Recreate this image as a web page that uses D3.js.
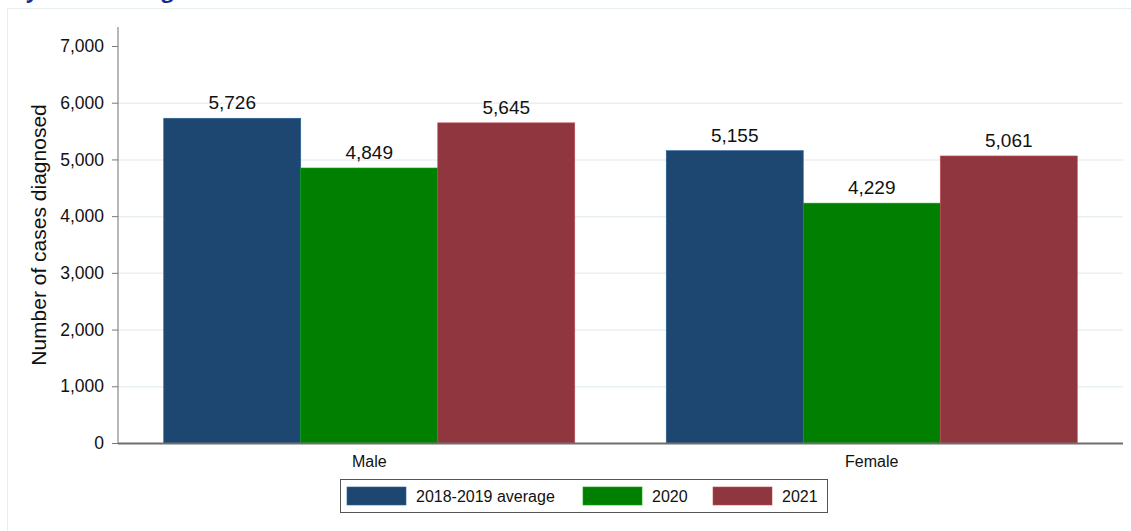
<!DOCTYPE html>
<html>
<head>
<meta charset="utf-8">
<script src="https://cdn.jsdelivr.net/npm/d3@7"></script>
<style>
  html, body { margin: 0; padding: 0; background: #fff; }
  svg { display: block; font-family: "Liberation Sans", Arial, sans-serif; }
</style>
</head>
<body>
<svg id="chart"></svg>
<script>
const width = 1131;
const height = 531;

// data
const groups = ['Male', 'Female'];
const seriesNames = ['2018-2019 average', '2020', '2021'];
const seriesColors = ['#1d4770', '#007f00', '#8f363e'];
const maleValues = [5726, 4849, 5645];
const femaleValues = [5155, 4229, 5061];
const yTicks = [0, 1000, 2000, 3000, 4000, 5000, 6000, 7000];
const gridTicks = [1000, 2000, 3000, 4000, 5000, 6000];

const valuesByGroup = { Male: maleValues, Female: femaleValues };

const svg = d3.select('#chart')
  .attr('width', width)
  .attr('height', height);

// title that sits above the panel, only its descenders show
svg.append('text')
  .attr('x', 12)
  .attr('y', -2)
  .style('font-family', '"Open Sans", sans-serif')
  .style('font-weight', 'bold')
  .style('font-size', '21px')
  .attr('fill', '#1b2a8e')
  .text('By sex and stage');

// light panel frame
svg.append('path')
  .attr('d', 'M7.5,531 V8.5 H1131')
  .attr('fill', 'none')
  .attr('stroke', '#e6eef0')
  .attr('stroke-width', 1);

const plot = { left: 118, right: 1123, top: 27, bottom: 443 };

const y = d3.scaleLinear()
  .domain([0, 7335])
  .range([plot.bottom, plot.top]);

const x0 = d3.scaleBand()
  .domain(groups)
  .range([plot.left, plot.right])
  .paddingInner(0.182)
  .paddingOuter(0.091);

const x1 = d3.scaleBand()
  .domain(seriesNames)
  .range([0, x0.bandwidth()]);

// gridlines
svg.append('g')
  .selectAll('line')
  .data(gridTicks)
  .join('line')
    .attr('x1', plot.left)
    .attr('x2', plot.right)
    .attr('y1', d => y(d) + 0.5)
    .attr('y2', d => y(d) + 0.5)
    .attr('stroke', '#e8f0f2')
    .attr('stroke-width', 1.5);

// y axis
const yAxis = svg.append('g')
  .attr('transform', `translate(${plot.left},0)`)
  .call(d3.axisLeft(y)
    .tickValues(yTicks)
    .tickSize(6)
    .tickPadding(8)
    .tickFormat(d3.format(',')));
yAxis.select('.domain').remove();
yAxis.selectAll('.tick line').attr('stroke', '#777');
yAxis.selectAll('.tick text')
  .style('font-size', '17.5px')
  .attr('fill', '#111');
yAxis.append('line')
  .attr('y1', plot.top)
  .attr('y2', plot.bottom)
  .attr('stroke', '#888')
  .attr('stroke-width', 1.2);

// y axis title
svg.append('text')
  .attr('transform', `translate(46,${(plot.top + plot.bottom) / 2}) rotate(-90)`)
  .attr('text-anchor', 'middle')
  .style('font-size', '21px')
  .attr('fill', '#111')
  .text('Number of cases diagnosed');

// bars
const groupG = svg.append('g')
  .selectAll('g')
  .data(groups)
  .join('g')
    .attr('transform', d => `translate(${x0(d)},0)`);

groupG.selectAll('rect')
  .data(g => valuesByGroup[g].map((v, i) => ({ name: seriesNames[i], value: v, color: seriesColors[i] })))
  .join('rect')
    .attr('x', d => x1(d.name))
    .attr('y', d => y(d.value))
    .attr('width', x1.bandwidth())
    .attr('height', d => y(0) - y(d.value))
    .attr('fill', d => d.color)
    .attr('stroke', d => d3.color(d.color).brighter(0.9))
    .attr('stroke-width', 0.6);

groupG.selectAll('text.value')
  .data(g => valuesByGroup[g].map((v, i) => ({ name: seriesNames[i], value: v })))
  .join('text')
    .classed('value', true)
    .attr('x', d => x1(d.name) + x1.bandwidth() / 2)
    .attr('y', d => y(d.value) - 9)
    .attr('text-anchor', 'middle')
    .style('font-size', '19px')
    .attr('fill', '#111')
    .text(d => d3.format(',')(d.value));

// x axis
svg.append('line')
  .attr('x1', plot.left)
  .attr('x2', plot.right)
  .attr('y1', plot.bottom + 0.5)
  .attr('y2', plot.bottom + 0.5)
  .attr('stroke', '#6e6e6e')
  .attr('stroke-width', 2);

svg.append('g')
  .selectAll('text')
  .data(groups)
  .join('text')
    .attr('x', d => x0(d) + x0.bandwidth() / 2)
    .attr('y', 467)
    .attr('text-anchor', 'middle')
    .style('font-size', '16px')
    .attr('fill', '#111')
    .text(d => d);

// legend
const legend = svg.append('g');
legend.append('rect')
  .attr('x', 340.5)
  .attr('y', 479.5)
  .attr('width', 487)
  .attr('height', 33)
  .attr('fill', '#fff')
  .attr('stroke', '#555')
  .attr('stroke-width', 1);

const legendX = [347, 583, 713];
const legendItems = legend.selectAll('g')
  .data(seriesNames)
  .join('g')
    .attr('transform', (d, i) => `translate(${legendX[i]},487)`);
legendItems.append('rect')
  .attr('width', 59)
  .attr('height', 18)
  .attr('fill', (d, i) => seriesColors[i])
  .attr('stroke', (d, i) => d3.color(seriesColors[i]).brighter(0.9))
  .attr('stroke-width', 0.6);
legendItems.append('text')
  .attr('x', 69)
  .attr('y', 15)
  .style('font-size', '16px')
  .attr('fill', '#111')
  .text(d => d);
</script>
</body>
</html>
